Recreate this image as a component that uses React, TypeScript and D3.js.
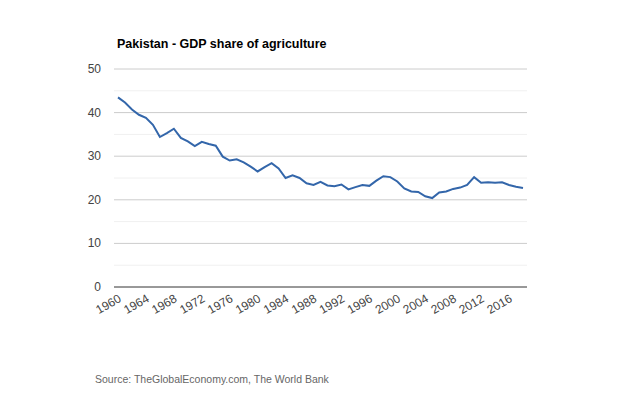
import React from "react";
import * as d3 from "d3";

const years = d3.range(1960, 2019);
const values = [43.5,42.3,40.7,39.5,38.8,37.2,34.4,35.3,36.3,34.2,33.4,32.3,33.3,32.8,32.4,29.9,29.0,29.3,28.6,27.6,26.5,27.5,28.4,27.2,25.0,25.6,25.0,23.8,23.4,24.1,23.3,23.1,23.5,22.4,22.9,23.4,23.2,24.4,25.4,25.2,24.2,22.6,21.9,21.8,20.8,20.4,21.7,21.9,22.5,22.8,23.4,25.2,23.9,24.0,23.9,24.0,23.4,23.0,22.7];
const yTicks = [0, 10, 20, 30, 40, 50];
const xTicks = d3.range(1960, 2019, 4);

export default function App() {
  const x = d3.scaleLinear().domain([1960, 2018]).range([118, 523]);
  const y = d3.scaleLinear().domain([0, 50]).range([287, 69]);
  const line = d3.line<number>().x((_, i) => x(years[i])).y((d) => y(d));
  const font = "Arial, 'Liberation Sans', sans-serif";
  return (
    <svg width={640} height={400} style={{ position: "absolute", left: 0, top: 0, background: "#fff" }} fontFamily={font}>
      <rect width={640} height={400} fill="#fff" />
      <text x={117} y={48} fontSize={12.5} fontWeight="bold" fill="#000">Pakistan - GDP share of agriculture</text>
      {d3.range(5, 50, 10).map((v) => (
        <line key={"m" + v} x1={114} x2={527} y1={y(v)} y2={y(v)} stroke="#f0f0f0" />
      ))}
      {yTicks.map((v) => (
        <g key={v}>
          {v > 0 && <line x1={114} x2={527} y1={y(v)} y2={y(v)} stroke="#cccccc" />}
          <text x={101} y={y(v) + 4} textAnchor="end" fontSize={12} fill="#444">{v}</text>
        </g>
      ))}
      <line x1={114} x2={527} y1={y(0)} y2={y(0)} stroke="#333" />
      {xTicks.map((t) => (
        <text key={t} transform={`translate(${x(t) + 4},${y(0) + 14}) rotate(-30)`} textAnchor="end" fontSize={12} fill="#444">{t}</text>
      ))}
      <path d={line(values) || ""} fill="none" stroke="#3366aa" strokeWidth={2} />
      <text x={95} y={383} fontSize={10.5} fill="#666">Source: TheGlobalEconomy.com, The World Bank</text>
    </svg>
  );
}
